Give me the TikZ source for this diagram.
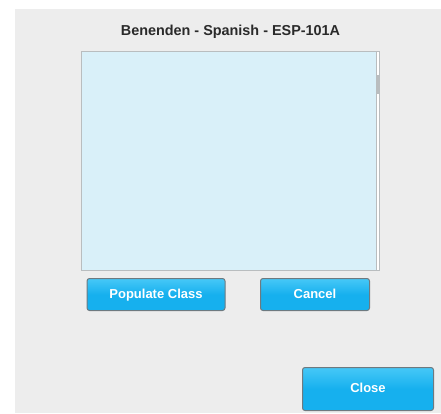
\documentclass[tikz,border=0pt]{standalone}
\usepackage{fontspec}
\setmainfont{Liberation Sans}
\definecolor{panelgrey}{HTML}{EDEDED}
\definecolor{listblue}{HTML}{D9F0F9}
\definecolor{listedge}{HTML}{B9BDBF}
\definecolor{btntop}{HTML}{46C8F7}
\definecolor{btnmid}{HTML}{16B0EE}
\definecolor{btnedge}{HTML}{6E7A80}
\definecolor{titleink}{HTML}{2A2A2A}
\pgfdeclareverticalshading{btnshade}{100bp}{color(0bp)=(btnmid);color(25bp)=(btnmid);color(50bp)=(btnmid);color(75bp)=(btntop);color(100bp)=(btntop)}
\tikzset{
  x=1pt,y=-1pt,
  uibutton/.style={draw=btnedge,line width=1pt,rounded corners=2.5pt,inner sep=0pt,
    text height=9.5pt,text depth=2.5pt,
    shading=btnshade,text=white,font=\bfseries\fontsize{13}{15}\selectfont},
}
\begin{document}
\begin{tikzpicture}
\useasboundingbox (0,0) rectangle (441,413);
\fill[white] (0,0) rectangle (441,413);
\fill[panelgrey] (15,9) rectangle (441,413);
\node[font=\bfseries\fontsize{14.4}{17}\selectfont,text=titleink,inner sep=0pt] (title) at (230.5,32) {Benenden - Spanish - ESP-101A};
\fill[listblue] (81.5,51.5) rectangle (377,270.5);
\fill[white] (377,52) rectangle (379,270);
\fill[listedge] (377,75) rectangle (379,94);
\draw[listedge,line width=1pt] (376.6,52) -- (376.6,270);
\draw[listedge,line width=1.3pt] (81.5,51.5) rectangle (379.6,270.5);
\node[uibutton,minimum width=138pt,minimum height=32pt] (populate) at (156,294.5) {Populate Class};
\node[uibutton,minimum width=109pt,minimum height=32pt] (cancel) at (315,294.5) {Cancel};
\node[uibutton,minimum width=131pt,minimum height=43pt] (close) at (368,389) {Close};
\end{tikzpicture}
\end{document}
